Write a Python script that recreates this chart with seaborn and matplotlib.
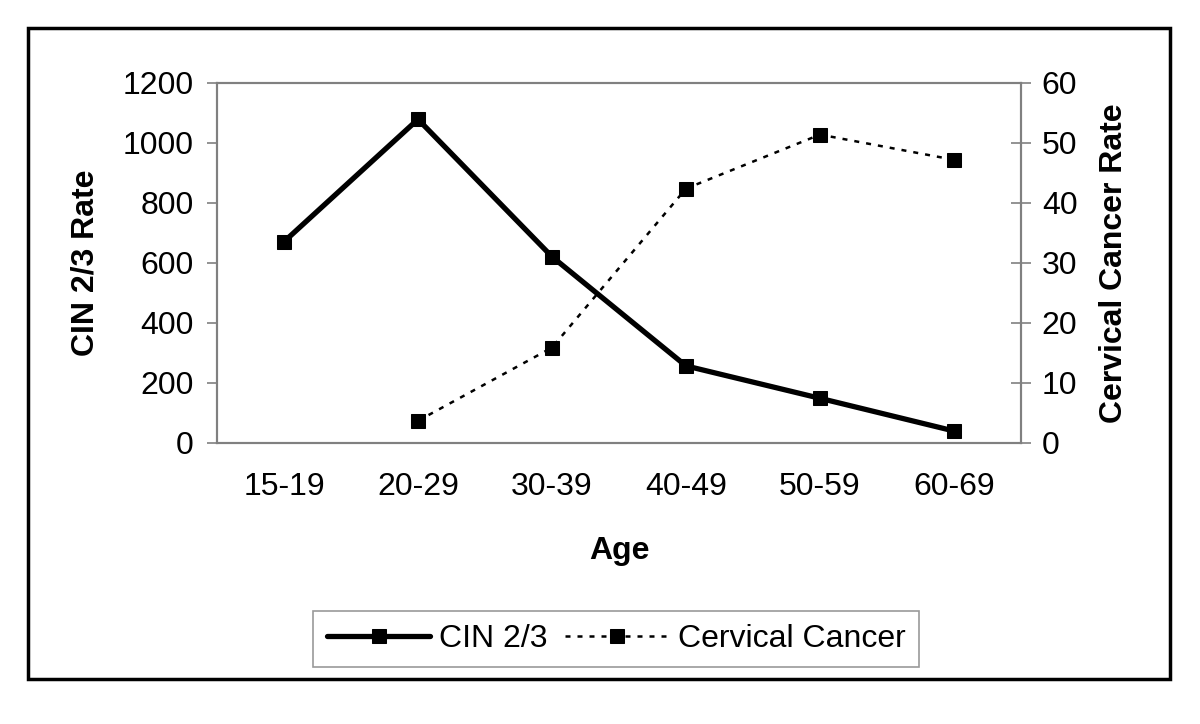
import numpy as np
import pandas as pd
import matplotlib
matplotlib.use("Agg")
import matplotlib.pyplot as plt
import seaborn as sns
from matplotlib.patches import Rectangle

# ---- data ----
ages = ["15-19", "20-29", "30-39", "40-49", "50-59", "60-69"]
cin_rate = [671, 1079, 621, 257, 149, 40]
cancer_rate = [np.nan, 3.7, 15.9, 42.4, 51.4, 47.2]
left_ticks = [0, 200, 400, 600, 800, 1000, 1200]
right_ticks = [0, 10, 20, 30, 40, 50, 60]

sns.set_style("white")
plt.rcParams['font.family'] = ['Liberation Sans', 'DejaVu Sans']
plt.rcParams['text.color'] = 'black'
plt.rcParams['axes.labelcolor'] = 'black'

df = pd.DataFrame({"pos": np.arange(len(ages)), "Age": ages,
                   "CIN": cin_rate, "Cancer": cancer_rate})

fig = plt.figure(figsize=(12, 7.24), dpi=100)
ax = fig.add_axes([217/1200, 1-443/724, 804/1200, 360/724])
ax2 = ax.twinx()

sns.lineplot(data=df, x="pos", y="CIN", ax=ax, color="black", lw=3.8,
             marker="s", markersize=10.5, markeredgecolor="black",
             legend=False, zorder=3)
sns.lineplot(data=df.dropna(), x="pos", y="Cancer", ax=ax2, color="black",
             lw=1.8, linestyle=(0, (2.0, 2.8)), marker="s", markersize=10.5,
             markeredgecolor="black", legend=False, zorder=3)

gray = "#808080"
fs = 23
ax.set_xlim(-0.5, len(ages) - 0.5)
ax.set_ylim(left_ticks[0], left_ticks[-1])
ax2.set_ylim(right_ticks[0], right_ticks[-1])
ax.set_yticks(left_ticks)
ax.set_yticklabels([str(t) for t in left_ticks])
ax2.set_yticks(right_ticks)
ax2.set_yticklabels([str(t) for t in right_ticks])

ax.set_xticks(np.arange(len(ages)))
ax.set_xticklabels(ages)
ax.set_xticks(np.arange(len(ages) + 1) - 0.5, minor=True)
ax.tick_params(axis="x", which="major", length=0, pad=21, labelsize=fs, labelcolor="black")
ax.tick_params(axis="x", which="minor", length=14, direction="inout", color=gray, width=1.2)
ax.tick_params(axis="y", which="major", length=7, direction="out", color=gray, width=1.2,
               pad=10, labelsize=fs, labelcolor="black", left=True)
ax2.tick_params(axis="y", which="major", length=14, direction="inout", color=gray, width=1.2,
                pad=8, labelsize=fs, labelcolor="black", right=True)

for a in (ax, ax2):
    for s in a.spines.values():
        s.set_color(gray)
        s.set_linewidth(1.5)
        s.set_visible(True)

ax.set_xlabel("Age", fontsize=fs, fontweight="bold", color="black")
ax.set_ylabel("CIN 2/3 Rate", fontsize=fs, fontweight="bold", color="black")
ax2.set_ylabel("Cervical Cancer Rate", fontsize=fs, fontweight="bold", color="black")
ax.xaxis.set_label_coords(0.5, -0.258)
ax.yaxis.set_label_coords(-0.1455, 0.5)
ax2.yaxis.set_label_coords(1.097, 0.5)

handles = [ax.get_lines()[0], ax2.get_lines()[0]]
labels = ["CIN 2/3", "Cervical Cancer"]
leg = fig.legend(handles, labels, loc="center", bbox_to_anchor=(616/1200, 1 - 639/724),
                 ncol=2, frameon=True, fancybox=False, edgecolor=gray, fontsize=fs,
                 handlelength=3.25, columnspacing=0.53, handletextpad=0.28,
                 borderpad=0.42, borderaxespad=0)
leg.get_frame().set_linewidth(1.2)

fig.patches.append(Rectangle((28/1200, 1 - 679/724), 1142/1200, 651/724,
                             transform=fig.transFigure, fill=False,
                             edgecolor="black", linewidth=2.5))

fig.savefig("out.png", dpi=100, facecolor="white")
